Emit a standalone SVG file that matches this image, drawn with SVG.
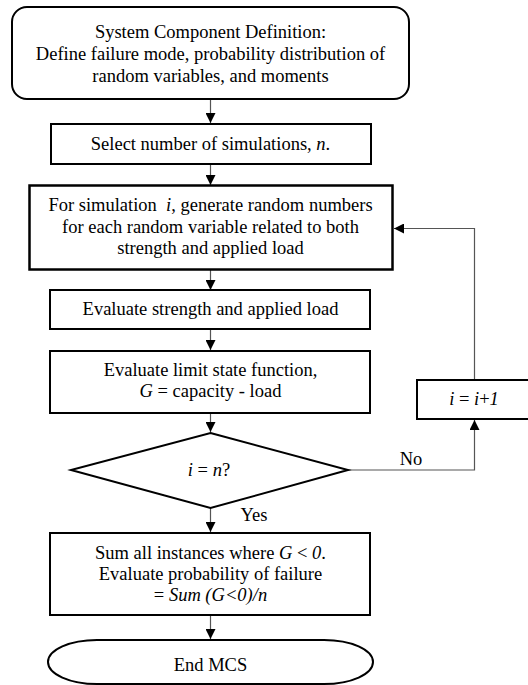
<svg xmlns="http://www.w3.org/2000/svg" width="528" height="685" viewBox="0 0 528 685">
<style>
.box{fill:#fff;stroke:#000;stroke-width:2}
.t{font-family:"Liberation Serif","Times New Roman",serif;font-size:18.5px;fill:#000;text-anchor:middle}
.i{font-style:italic}
.c{fill:none;stroke:#555;stroke-width:1.2}
</style>
<defs>
<marker id="ah" markerWidth="10" markerHeight="10" refX="10" refY="5" orient="auto" markerUnits="userSpaceOnUse">
<path d="M0,0 L10,5 L0,10 Z" fill="#000"/>
</marker>
</defs>
<rect width="528" height="685" fill="#fff"/>
<g id="connectors">
<line class="c" x1="210.5" y1="99" x2="210.5" y2="123" marker-end="url(#ah)"/>
<line class="c" x1="210.5" y1="164" x2="210.5" y2="185" marker-end="url(#ah)"/>
<line class="c" x1="210.5" y1="270" x2="210.5" y2="290" marker-end="url(#ah)"/>
<line class="c" x1="210.5" y1="329" x2="210.5" y2="350" marker-end="url(#ah)"/>
<line class="c" x1="210.5" y1="413" x2="210.5" y2="432" marker-end="url(#ah)"/>
<line class="c" x1="210.5" y1="508" x2="210.5" y2="532" marker-end="url(#ah)"/>
<line class="c" x1="210.5" y1="615" x2="210.5" y2="639" marker-end="url(#ah)"/>
<polyline class="c" points="348,470 474.5,470 474.5,420" marker-end="url(#ah)"/>
<polyline class="c" points="474.5,380 474.5,228.5 394,228.5" marker-end="url(#ah)"/>
<text class="t" x="411" y="465">No</text>
<text class="t" x="254" y="521">Yes</text>
</g>
<g id="start">
<rect class="box" x="12" y="7" width="397" height="92" rx="15"/>
<text class="t" x="210.5" y="38">System Component Definition:</text>
<text class="t" x="210.5" y="60">Define failure mode, probability distribution of</text>
<text class="t" x="210.5" y="82">random variables, and moments</text>
</g>
<g id="select">
<rect class="box" x="51" y="124" width="320" height="40"/>
<text class="t" x="210.5" y="149.5">Select number of simulations, <tspan class="i">n</tspan>.</text>
</g>
<g id="generate">
<rect class="box" x="29.5" y="185.5" width="363" height="84" style="stroke-width:2.5"/>
<text class="t" x="210.5" y="211" xml:space="preserve">For simulation  <tspan class="i">i</tspan>, generate random numbers</text>
<text class="t" x="210.5" y="233">for each random variable related to both</text>
<text class="t" x="210.5" y="254">strength and applied load</text>
</g>
<g id="evaluate">
<rect class="box" x="50" y="290" width="320" height="39"/>
<text class="t" x="210.5" y="315">Evaluate strength and applied load</text>
</g>
<g id="limit">
<rect class="box" x="50" y="351" width="320" height="62"/>
<text class="t" x="210.5" y="376">Evaluate limit state function,</text>
<text class="t" x="210.5" y="397"><tspan class="i">G</tspan> = capacity - load</text>
</g>
<g id="decision">
<polygon class="box" points="210.5,433 348,470 210.5,508 71,470"/>
<text class="t" x="209" y="476"><tspan class="i">i</tspan> = <tspan class="i">n</tspan>?</text>
</g>
<g id="increment">
<rect class="box" x="417" y="380" width="116" height="39"/>
<text class="t" x="474" y="405"><tspan class="i">i</tspan> = <tspan class="i">i</tspan>+<tspan class="i">1</tspan></text>
</g>
<g id="sum">
<rect class="box" x="50" y="533" width="320" height="82"/>
<text class="t" x="210.5" y="559">Sum all instances where <tspan class="i">G</tspan> &lt; <tspan class="i">0</tspan>.</text>
<text class="t" x="210.5" y="580">Evaluate probability of failure</text>
<text class="t" x="210.5" y="601">= <tspan class="i">Sum (G&lt;0)/n</tspan></text>
</g>
<g id="end">
<path class="box" d="M97,640 H324 A49,22 0 0 1 324,684 H97 A49,22 0 0 1 97,640 Z"/>
<text class="t" x="210.5" y="671">End MCS</text>
</g>
</svg>
